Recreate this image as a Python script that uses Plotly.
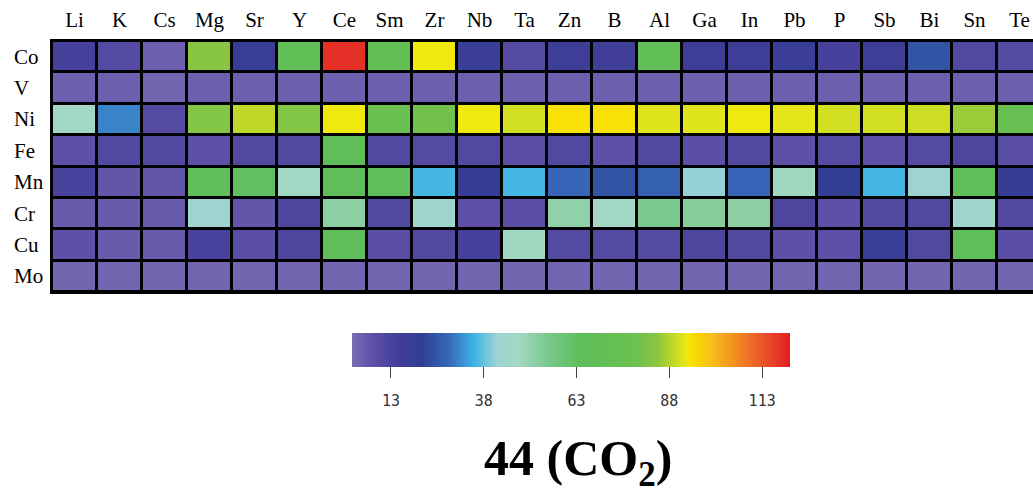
import plotly.graph_objects as go

# Promoter elements (columns) and host metals (rows)
promoters = ["Li", "K", "Cs", "Mg", "Sr", "Y", "Ce", "Sm", "Zr", "Nb", "Ta",
             "Zn", "B", "Al", "Ga", "In", "Pb", "P", "Sb", "Bi", "Sn", "Te"]
metals = ["Co", "V", "Ni", "Fe", "Mn", "Cr", "Cu", "Mo"]

# Signal intensity for m/z 44 (CO2), one list per host metal
co = [14, 10, 5, 84, 18, 68, 118, 70, 93, 17, 10, 16, 15, 68, 16, 16, 17, 14, 16, 25, 11, 10]
v  = [5, 5, 4, 5, 5, 5, 5, 5, 5, 5, 5, 5, 5, 5, 5, 5, 5, 5, 5, 5, 5, 5]
ni = [46, 31, 10, 83, 89, 83, 93, 77, 80, 93, 90.5, 94, 94, 91.5, 91.5, 93, 92, 90.5, 90.5, 90, 86, 75]
fe = [8, 11, 11, 8, 11, 11, 66, 11, 10, 11, 9, 11, 8, 11, 9, 11, 8, 10, 8, 10, 12, 9]
mn = [13, 7, 7, 64, 63, 47, 64, 65, 36, 19, 36, 28, 25, 27, 41, 28, 48, 20, 36, 43, 64, 19]
cr = [6, 6, 6, 43, 7, 12, 52, 11, 44, 8, 9, 51, 47, 55, 53, 52, 12, 8, 11, 11, 44, 11]
cu = [8, 6, 6, 13, 9, 12, 65, 9, 11, 14, 48, 10, 10, 10, 12, 11, 8, 8, 18, 11, 65, 9]
mo = [4, 4, 4, 4, 4, 4, 4, 4, 4, 4, 4, 4, 4, 4, 4, 4, 4, 4, 4, 4, 4, 4]

z = [co, v, ni, fe, mn, cr, cu, mo]

colorbar_ticks = [13, 38, 63, 88, 113]
zmin, zmax = 2.5, 120.5

colorscale = [
    [0.00, "#7b6db4"],
    [0.05, "#5b4ea5"],
    [0.11, "#3f3d98"],
    [0.16, "#2f3f92"],
    [0.22, "#3667b8"],
    [0.28, "#3db5e6"],
    [0.33, "#9ad3d4"],
    [0.38, "#a4d8c4"],
    [0.45, "#78c88a"],
    [0.52, "#5dbe5a"],
    [0.65, "#6cc04e"],
    [0.70, "#8fc73e"],
    [0.755, "#e0e41c"],
    [0.768, "#f3e80c"],
    [0.78, "#f9dc02"],
    [0.82, "#f8bf1a"],
    [0.87, "#f39320"],
    [0.94, "#e9522a"],
    [1.00, "#e31d25"],
]

W, H = 1033, 489
ML, MT, MR, MB = 52, 41, 0, 197
pw, ph = W - ML - MR, H - MT - MB

def px_x(x):
    return (x - ML) / pw

def px_y(y):
    return (MT + ph - y) / ph

cbar_common = dict(
    orientation="h",
    x=px_x(571), xanchor="center",
    y=px_y(333), yanchor="top",
    len=438, lenmode="pixels",
    thickness=34, thicknessmode="pixels",
    outlinewidth=0,
    tickvals=colorbar_ticks,
    ticks="outside", tickwidth=1,
    xpad=0, ypad=0,
)

# Heatmap with the short visible tick marks on its colour bar
fig = go.Figure(go.Heatmap(
    z=z, x=promoters, y=metals,
    colorscale=colorscale, zmin=zmin, zmax=zmax,
    xgap=3, ygap=3,
    colorbar=dict(**cbar_common, ticklen=11, tickcolor="#444",
                  showticklabels=False),
))

# Transparent copy whose colour bar carries the tick labels further down
fig.add_trace(go.Heatmap(
    z=z, x=promoters, y=metals, opacity=0, hoverinfo="skip",
    colorscale=colorscale, zmin=zmin, zmax=zmax,
    xgap=3, ygap=3,
    colorbar=dict(**cbar_common, ticklen=21, tickcolor="rgba(0,0,0,0)",
                  tickfont=dict(family="DejaVu Sans Mono", size=15, color="#333")),
))

serif = "Liberation Serif, Times New Roman, serif"

# Row labels, left-aligned beside the grid
for m in metals:
    fig.add_annotation(x=px_x(12), xref="paper", xanchor="left",
                       y=m, yref="y", text=m, showarrow=False,
                       font=dict(family=serif, size=21, color="#000"))

fig.add_annotation(x=px_x(578), xref="paper", xanchor="center",
                   y=px_y(462), yref="paper", yanchor="middle",
                   text="<b>44 (CO<sub>2</sub>)</b>", showarrow=False,
                   font=dict(family=serif, size=50, color="#000"))

fig.update_layout(
    width=W, height=H,
    margin=dict(l=ML, r=MR, t=MT, b=MB),
    paper_bgcolor="white", plot_bgcolor="black",
    xaxis=dict(side="top", range=[-0.5, -0.5 + pw / 45.0],
               showgrid=False, zeroline=False, ticks="",
               showline=True, mirror=True, linewidth=2, linecolor="black",
               tickfont=dict(family=serif, size=21, color="#000"),
               ticklabelstandoff=4),
    yaxis=dict(range=[7.5, -0.5], showgrid=False, zeroline=False,
               showticklabels=False, ticks="",
               showline=True, linewidth=2, linecolor="black"),
)

fig.write_html("out.html")
